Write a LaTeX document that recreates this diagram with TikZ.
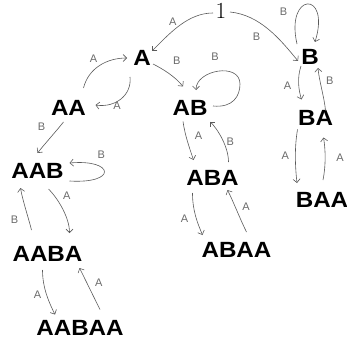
\documentclass[tikz,border=0pt]{standalone}
\usepackage{fontspec}
\newfontfamily\nodefont[FakeStretch=1.1]{Liberation Sans}
\newfontfamily\lblfont{Liberation Sans}
\usetikzlibrary{arrows.meta}
\definecolor{edgegray}{HTML}{5A5A5A}
\definecolor{lblgray}{HTML}{6A6A6A}
\begin{document}
\begin{tikzpicture}[x=1pt,y=-1pt,
  state/.style={font=\nodefont\bfseries\fontsize{22}{22}\selectfont, inner sep=0pt},
  edge/.style={draw=edgegray, line width=0.6pt, -{Straight Barb[length=3.5pt,width=7pt]}},
  lbl/.style={font=\lblfont\fontsize{11}{11}\selectfont, text=lblgray, inner sep=0pt}]
\useasboundingbox (0,0) rectangle (347,342);
% nodes
\node[font=\fontsize{23}{23}\selectfont, inner sep=0pt] (one) at (221,11) {1};
\node[state] (A) at (142,58) {A};
\node[state] (B) at (310,57) {B};
\node[state] (AA) at (68.5,108) {AA};
\node[state] (AB) at (190,107.5) {AB};
\node[state] (BA) at (315.5,117.5) {BA};
\node[state] (AAB) at (37.5,171) {AAB};
\node[state] (ABA) at (212.5,178) {ABA};
\node[state] (BAA) at (322,200) {BAA};
\node[state] (AABA) at (47.5,254) {AABA};
\node[state] (ABAA) at (236.5,250) {ABAA};
\node[state] (AABAA) at (80,327.5) {AABAA};
% edges
\draw[edge] ([shift={(-8,2)}]one.center) .. controls +(-25,0) and +(18,-18) .. ([shift={(10,-7)}]A.center)
  node[lbl,pos=0.5,shift={(-7,-4)}] {A};
\draw[edge] ([shift={(9,1)}]one.center) .. controls +(30,3) and +(-18,-22) .. ([shift={(-12,4)}]B.center)
  node[lbl,pos=0.5,shift={(-12,7)}] {B};
\draw[edge] ([shift={(-13,-13)}]B.center) .. controls +(-12,-52) and +(16,-52) .. ([shift={(5,-15)}]B.center)
  node[lbl,pos=0.5,shift={(-24,8)}] {B};
\draw[edge] ([shift={(-12,19)}]A.center) .. controls +(2,18) and +(20,3) .. ([shift={(27,-3)}]AA.center)
  node[lbl,pos=0.5,shift={(-4,7)}] {A};
\draw[edge] ([shift={(15,-20)}]AA.center) .. controls +(5,-20) and +(-20,0) .. ([shift={(-15,0)}]A.center)
  node[lbl,pos=0.5,shift={(-6,-7)}] {A};
\draw[edge] ([shift={(11,6)}]A.center) .. controls +(10,5) and +(-8,-10) .. ([shift={(-7,-21)}]AB.center)
  node[lbl,pos=0.5,shift={(8,-13)}] {B};
\draw[edge] ([shift={(23,-1.5)}]AB.center) .. controls +(20,2) and +(0,12) .. ([shift={(50,-23.5)}]AB.center)
  .. controls +(0,-22) and +(0,-20) .. ([shift={(6,-17.5)}]AB.center)
  node[lbl,pos=0.5,shift={(-3,-15)}] {B};
\draw[edge] ([shift={(-9,9)}]B.center) .. controls +(-4,12) and +(-3,-10) .. ([shift={(-14,-18)}]BA.center)
  node[lbl,pos=0.5,shift={(-11,2)}] {A};
\draw[edge] ([shift={(10,-7)}]BA.center) .. controls +(-1,-12) and +(1,12) .. ([shift={(8,11)}]B.center)
  node[lbl,pos=0.5,shift={(8,-9)}] {B};
\draw[edge] ([shift={(-5,14)}]AA.center) .. controls +(-8,10) and +(8,-10) .. ([shift={(0,-18)}]AAB.center)
  node[lbl,pos=0.5,shift={(-9,-11)}] {B};
\draw[edge] ([shift={(32,10)}]AAB.center) .. controls +(48,3) and +(45,-4) .. ([shift={(32,-8)}]AAB.center)
  node[lbl,pos=0.5,shift={(-3,-17)}] {B};
\draw[edge] ([shift={(11,18)}]AAB.center) .. controls +(10,10) and +(0,-15) .. ([shift={(22,-21)}]AABA.center)
  node[lbl,pos=0.5,shift={(4,-13)}] {A};
\draw[edge] ([shift={(-16,-24)}]AABA.center) .. controls +(-3,-12) and +(2,12) .. ([shift={(-17,17)}]AAB.center)
  node[lbl,pos=0.5,shift={(-11,11)}] {B};
\draw[edge] ([shift={(-5,16)}]AABA.center) .. controls +(0,18) and +(-6,-12) .. ([shift={(-25,-13)}]AABAA.center)
  node[lbl,pos=0.5,shift={(-9,0)}] {A};
\draw[edge] ([shift={(20,-18)}]AABAA.center) .. controls +(-6,-12) and +(6,12) .. ([shift={(32,14)}]AABA.center)
  node[lbl,pos=0.5,shift={(9,-6)}] {A};
\draw[edge] ([shift={(-7,14)}]AB.center) .. controls +(2,14) and +(-4,-12) .. ([shift={(-19,-18)}]ABA.center)
  node[lbl,pos=0.5,shift={(11,-6)}] {A};
\draw[edge] ([shift={(16,-16)}]ABA.center) .. controls +(0,-15) and +(8,8) .. ([shift={(20,14)}]AB.center)
  node[lbl,pos=0.5,shift={(8,3)}] {B};
\draw[edge] ([shift={(-20,15)}]ABA.center) .. controls +(0,18) and +(-5,-12) .. ([shift={(-34,-15)}]ABAA.center)
  node[lbl,pos=0.5,shift={(-11,2)}] {A};
\draw[edge] ([shift={(10,-18)}]ABAA.center) .. controls +(-6,-12) and +(6,12) .. ([shift={(15,12)}]ABA.center)
  node[lbl,pos=0.5,shift={(9,-4)}] {A};
\draw[edge] ([shift={(-18,12)}]BA.center) .. controls +(-3,18) and +(-2,-18) .. ([shift={(-25,-17)}]BAA.center)
  node[lbl,pos=0.5,shift={(-10,-1)}] {A};
\draw[edge] ([shift={(1,-20)}]BAA.center) .. controls +(3,-15) and +(2,12) .. ([shift={(8,20)}]BA.center)
  node[lbl,pos=0.5,shift={(15,0)}] {A};
\end{tikzpicture}
\end{document}
